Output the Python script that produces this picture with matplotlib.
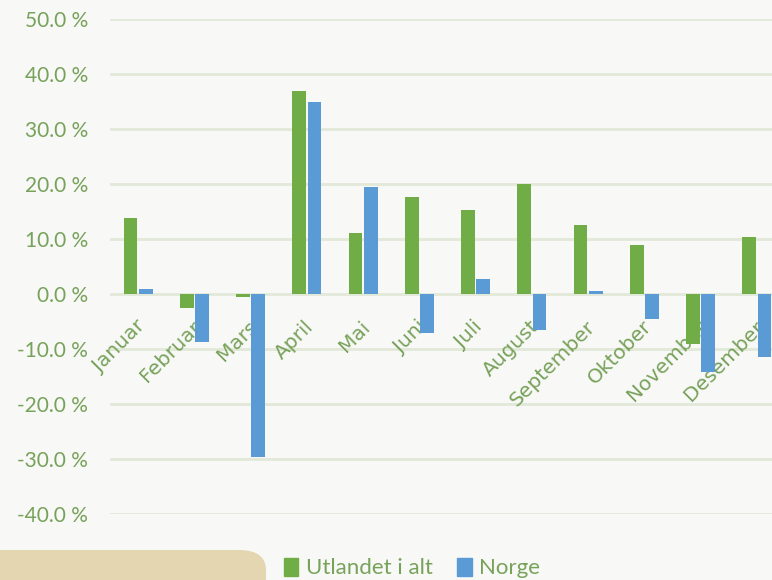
import numpy as np
import matplotlib.pyplot as plt
from matplotlib.patches import FancyBboxPatch, Patch

# data (percent change)
maaneder = ['Januar', 'Februar', 'Mars', 'April', 'Mai', 'Juni', 'Juli',
            'August', 'September', 'Oktober', 'November', 'Desember']
utlandet = [13.8, -2.6, -0.5, 36.9, 11.1, 17.6, 15.3, 20.0, 12.5, 8.9, -9.1, 10.4]
norge = [1.0, -8.7, -29.6, 34.9, 19.5, -7.1, 2.7, -6.5, 0.5, -4.5, -14.2, -11.5]
y_ticks = [-40, -30, -20, -10, 0, 10, 20, 30, 40, 50]

plt.rcParams['font.family'] = ['Lato', 'DejaVu Sans']
tekstfarge = '#77a25a'
bg = '#f8f8f6'

fig = plt.figure(figsize=(7.72, 5.80), dpi=100, facecolor=bg)

# beige shape bottom left (drawn first, behind everything)
fig.patches.append(FancyBboxPatch((-30 / 772, -0.1), 296 / 772, 0.1 + 30 / 580,
                                  boxstyle='round,pad=0,rounding_size=0.035',
                                  transform=fig.transFigure, facecolor='#e3d6b1',
                                  edgecolor='none', zorder=0))

ax = fig.add_axes([110 / 772, 66 / 580, 675 / 772, 495 / 580])
ax.set_facecolor('none')

x = np.arange(len(maaneder))
w = 0.245
ax.bar(x - 0.135, utlandet, w, color='#70ad47', zorder=3)
ax.bar(x + 0.135, norge, w, color='#5b9bd5', zorder=3)

ax.set_xlim(-0.5, 11.5)
ax.set_ylim(-40, 50)
ax.set_yticks(y_ticks)
ax.set_yticklabels([f'{v:.1f} %' for v in y_ticks], color=tekstfarge, fontsize=15)
ax.tick_params(axis='y', length=0, pad=16)
ax.set_xticks([])
ax.grid(axis='y', color='#e2e9d8', linewidth=2, zorder=0)
for s in ax.spines.values():
    s.set_visible(False)

# month labels sit below the zero line, under the bars
for i, m in enumerate(maaneder):
    ax.text(i - 0.05, -4.2, m, rotation=45, ha='right', va='top', rotation_mode='anchor',
            color=tekstfarge, fontsize=14.5, family='DejaVu Sans', zorder=2)

handles = [Patch(color='#70ad47', label='Utlandet i alt'),
           Patch(color='#5b9bd5', label='Norge')]
leg = fig.legend(handles=handles, loc='center', bbox_to_anchor=(412 / 772, 12 / 580),
                 ncol=2, frameon=False, fontsize=16, handlelength=0.65, handleheight=0.9,
                 handletextpad=0.35, columnspacing=1.1)
for t in leg.get_texts():
    t.set_color(tekstfarge)

fig.savefig('out.png', dpi=100, facecolor=bg)
